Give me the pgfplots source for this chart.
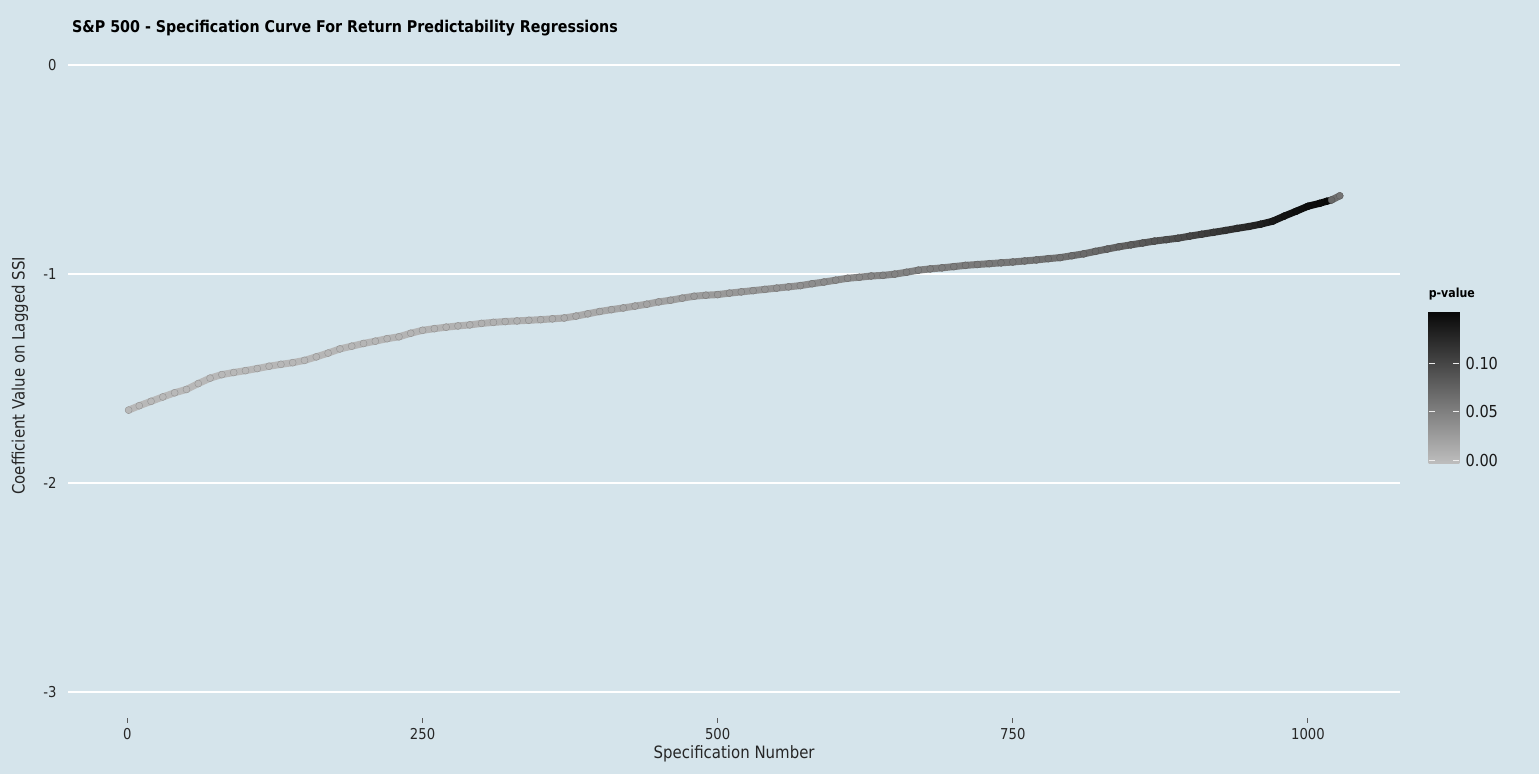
\documentclass[border=0pt]{standalone}
\usepackage{fontspec}
\setmainfont{DejaVu Sans}[FakeStretch=0.88]
\usepackage{pgfplots}
\usepackage{pgfplotstable}
\pgfplotsset{compat=1.18}
\definecolor{bg}{HTML}{D5E4EB}
\definecolor{tickgray}{HTML}{5A5A5A}
\newcommand\tickfont{\fontsize{15}{18}\selectfont}
\newcommand\labfont{\fontsize{17}{20}\selectfont}

\pgfplotstableread{
s coef p
1 -1.652 0.001
10 -1.631 0.001
20 -1.610 0.001
30 -1.589 0.001
40 -1.569 0.001
50 -1.553 0.001
60 -1.525 0.001
70 -1.499 0.001
80 -1.482 0.001
90 -1.472 0.001
100 -1.463 0.002
110 -1.453 0.002
120 -1.442 0.002
130 -1.433 0.002
140 -1.425 0.002
150 -1.414 0.002
160 -1.397 0.003
170 -1.379 0.003
180 -1.359 0.003
190 -1.346 0.003
200 -1.333 0.004
210 -1.322 0.004
220 -1.310 0.004
230 -1.301 0.005
240 -1.284 0.005
250 -1.270 0.005
260 -1.262 0.006
270 -1.255 0.006
280 -1.249 0.007
290 -1.244 0.007
300 -1.237 0.008
310 -1.232 0.008
320 -1.228 0.009
330 -1.225 0.009
340 -1.222 0.010
350 -1.219 0.010
360 -1.215 0.011
370 -1.211 0.012
380 -1.202 0.013
390 -1.191 0.014
400 -1.180 0.015
410 -1.171 0.016
420 -1.163 0.017
430 -1.154 0.018
440 -1.145 0.019
450 -1.134 0.020
460 -1.126 0.022
470 -1.116 0.024
480 -1.107 0.025
490 -1.102 0.026
500 -1.099 0.027
510 -1.092 0.029
520 -1.086 0.030
530 -1.080 0.031
540 -1.074 0.032
550 -1.068 0.034
560 -1.062 0.035
570 -1.056 0.036
580 -1.047 0.038
590 -1.039 0.039
600 -1.030 0.040
610 -1.021 0.042
620 -1.016 0.043
630 -1.010 0.045
640 -1.007 0.046
650 -1.001 0.047
660 -0.992 0.049
670 -0.982 0.050
680 -0.976 0.051
690 -0.971 0.052
700 -0.965 0.053
710 -0.959 0.054
720 -0.955 0.055
730 -0.951 0.056
740 -0.947 0.057
750 -0.943 0.058
760 -0.938 0.060
770 -0.933 0.061
780 -0.927 0.063
790 -0.922 0.064
800 -0.913 0.066
810 -0.904 0.068
820 -0.892 0.070
830 -0.881 0.073
840 -0.870 0.076
850 -0.861 0.079
860 -0.852 0.083
870 -0.843 0.087
880 -0.836 0.091
890 -0.829 0.095
900 -0.819 0.100
910 -0.810 0.105
920 -0.801 0.110
930 -0.792 0.115
940 -0.782 0.120
950 -0.773 0.126
960 -0.762 0.132
970 -0.748 0.138
980 -0.723 0.143
990 -0.700 0.146
1000 -0.676 0.148
1010 -0.662 0.150
1016 -0.652 0.152
1020 -0.646 0.070
1027 -0.626 0.060
}\spec

\begin{document}
\begin{tikzpicture}
\fill[bg] (0,0) rectangle (1539pt,774pt);
\begin{axis}[
  at={(68.3pt,56pt)}, anchor=south west,
  scale only axis, width=1331.7pt, height=684.3pt,
  xmin=-50.1, xmax=1078, ymin=-3.126, ymax=0.15,
  axis line style={draw=none},
  ymajorgrids, grid style={white, line width=1.8pt},
  xtick={0,250,500,750,1000}, xticklabels={0,250,500,750,1000},
  ytick={-3,-2,-1,0}, yticklabels={-3,-2,-1,0},
  xtick pos=bottom, ytick pos=left,
  tick align=outside, major tick length=4.5pt,
  x tick style={draw=tickgray, line width=0.9pt},
  y tick style={draw=none},
  xticklabel style={font=\tickfont, text=black!85, anchor=north, inner sep=0pt, yshift=-6pt},
  yticklabel style={font=\tickfont, text=black!85, anchor=east, inner sep=0pt, xshift=-7pt},
  xlabel={Specification Number},
  xlabel style={font=\labfont, text=black!85, at={(axis description cs:0.5,0)}, anchor=base, inner sep=0pt, yshift=-40pt},
  ylabel={Coefficient Value on Lagged SSI},
  ylabel style={font=\labfont, text=black!85, at={(axis description cs:0,0.5)}, anchor=center, inner sep=0pt, yshift=48.3pt},
  colormap={pv}{gray(0cm)=(0.745); gray(1cm)=(0.03)},
  point meta min=-0.0038, point meta max=0.1537,
  colorbar,
  colorbar/width=30.9pt,
  colorbar style={
    at={(parent axis.south west)}, anchor=south west,
    xshift=1351.7pt, yshift=254.2pt,
    scale only axis, width=30.9pt, height=152.7pt,
    axis line style={draw=none},
    ytick={0,0.05,0.1}, yticklabels={0.00,0.05,0.10},
    ytick pos=both, yticklabel pos=right,
    tick align=inside, major tick length=6pt,
    y tick style={draw=white!85!gray, line width=1pt},
    yticklabel style={font=\fontsize{16.5}{19}\selectfont, text=black!90, anchor=west, inner sep=0pt, xshift=6pt},
    title={p-value},
    title style={font=\bfseries\fontsize{12.5}{15}\selectfont, at={(0,1)}, anchor=south west, inner sep=0pt, yshift=5pt},
  },
]
\addplot[mesh, line width=7pt, line cap=round, point meta=explicit, forget plot]
  table[x=s, y=coef, meta=p] {\spec};
\addplot[scatter, only marks, mark=*, mark size=3.5pt, point meta=explicit,
  scatter/use mapped color={draw=mapped color!80!black, fill=mapped color}, forget plot]
  table[x=s, y=coef, meta=p] {\spec};
\end{axis}
\node[anchor=base west, inner sep=0pt, font=\bfseries\fontsize{16.2}{19}\selectfont] at (72pt,741pt)
  {S\&P 500 - Specification Curve For Return Predictability Regressions};
\pgfresetboundingbox
\useasboundingbox (0,0) rectangle (1539pt,774pt);
\end{tikzpicture}
\end{document}
